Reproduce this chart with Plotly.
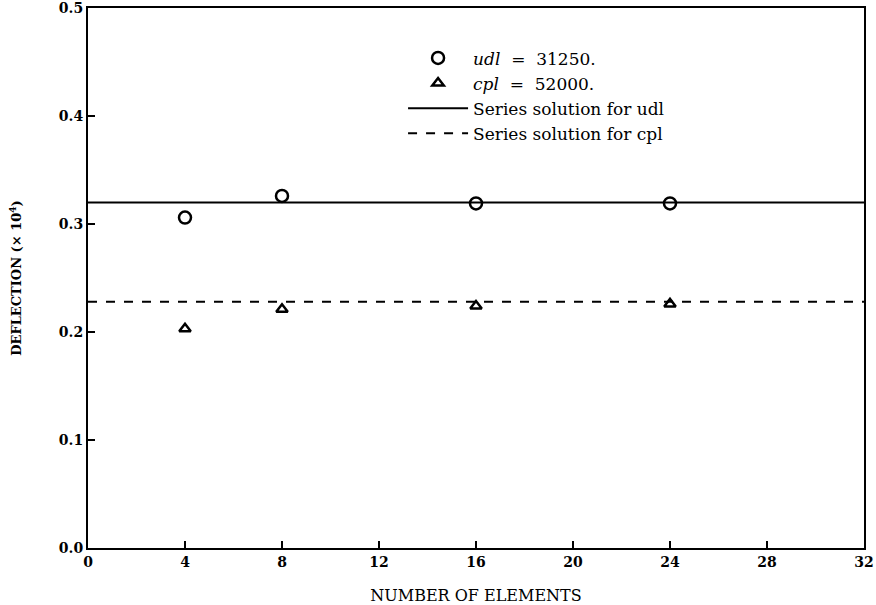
import plotly.graph_objects as go

# Data
elements = [4, 8, 16, 24]
udl_fe = [0.306, 0.326, 0.319, 0.319]
cpl_fe = [0.203, 0.221, 0.224, 0.226]
series_x = [0, 32]
series_udl = [0.320, 0.320]
series_cpl = [0.228, 0.228]
x_ticks = [0, 4, 8, 12, 16, 20, 24, 28, 32]
y_ticks = [0.0, 0.1, 0.2, 0.3, 0.4, 0.5]

SERIF = "DejaVu Serif"

fig = go.Figure()
fig.add_trace(go.Scatter(
    x=elements, y=udl_fe, mode="markers",
    name="<i>udl</i>  =  31250.",
    marker=dict(symbol="circle-open", size=12, color="black", line=dict(width=2.5, color="black")),
))
fig.add_trace(go.Scatter(
    x=elements, y=cpl_fe, mode="markers",
    name="<i>cpl</i>  =  52000.",
    marker=dict(symbol="triangle-up-open", size=10, color="black", line=dict(width=2.5, color="black")),
))
fig.add_trace(go.Scatter(
    x=series_x, y=series_udl, mode="lines",
    name="Series solution for udl",
    line=dict(color="black", width=2, dash="solid"),
))
fig.add_trace(go.Scatter(
    x=series_x, y=series_cpl, mode="lines",
    name="Series solution for cpl",
    line=dict(color="black", width=2, dash="dash"),
))

fig.update_layout(
    width=876, height=605,
    margin=dict(l=88, r=12, t=8, b=57),
    paper_bgcolor="white", plot_bgcolor="white",
    font=dict(family=SERIF, color="black"),
    showlegend=True,
    legend=dict(
        x=0.406, y=0.94, xanchor="left", yanchor="top",
        bgcolor="rgba(0,0,0,0)", borderwidth=0,
        font=dict(family=SERIF, size=17, color="black"),
        tracegroupgap=0, itemwidth=60,
    ),
    xaxis=dict(
        range=[0, 32], tickvals=x_ticks, ticktext=[str(v) for v in x_ticks],
        showgrid=False, zeroline=False, automargin=False,
        showline=True, linecolor="black", linewidth=2, mirror=True,
        ticks="inside", ticklen=7, tickwidth=2, tickcolor="black",
        ticklabeloverflow="allow",
        tickfont=dict(family=SERIF, size=14, color="black", weight="bold"),
        title=dict(text="NUMBER OF ELEMENTS", standoff=26,
                   font=dict(family=SERIF, size=16, color="black")),
    ),
    yaxis=dict(
        range=[0, 0.5], tickvals=y_ticks, ticktext=[f"{v:.1f}" for v in y_ticks],
        showgrid=False, zeroline=False, automargin=False,
        showline=True, linecolor="black", linewidth=2, mirror=True,
        ticks="inside", ticklen=7, tickwidth=2, tickcolor="black",
        ticklabeloverflow="allow",
        tickfont=dict(family=SERIF, size=14, color="black", weight="bold"),
        title=dict(text="DEFLECTION (× 10<sup>4</sup>)", standoff=34,
                   font=dict(family=SERIF, size=13, color="black", weight="bold")),
    ),
)

fig.write_html("out.html", config={"displayModeBar": False},
               post_script="document.body.style.margin='0';")
